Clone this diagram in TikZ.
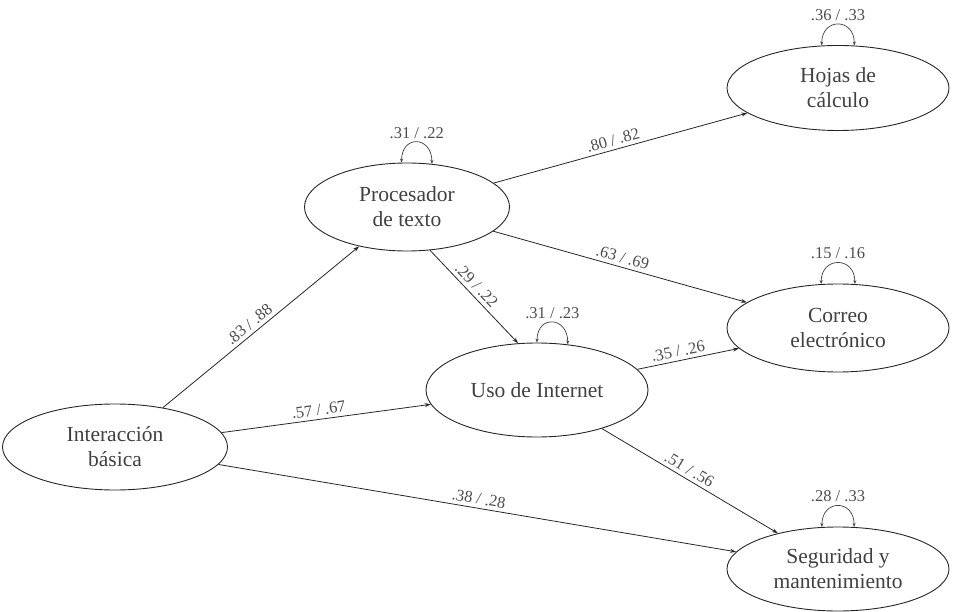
\documentclass[tikz,border=0pt]{standalone}
\usepackage{fontspec}
\setmainfont{Liberation Serif}
\usetikzlibrary{arrows.meta,shapes.geometric}
\begin{document}
\begin{tikzpicture}[x=1pt,y=-1pt,
  var/.style={ellipse,draw=black!85,line width=0.9pt,inner sep=0pt,
    text=black!75,align=center,
    font=\fontsize{21.5}{25}\selectfont},
  path/.style={draw=black!85,line width=0.8pt,-{Stealth[length=6pt,width=4pt]}},
  err/.style={draw=black!75,line width=0.7pt,{Stealth[length=4pt,width=3pt]}-{Stealth[length=4pt,width=3pt]}},
  coef/.style={text=black!70,font=\fontsize{16.5}{18}\selectfont,inner sep=3.5pt},
]
\useasboundingbox (0,0) rectangle (953,612);
\node[var,minimum width=222pt,minimum height=85pt] (H) at (838,88) {Hojas de\\cálculo};
\node[var,minimum width=205pt,minimum height=88pt] (P) at (407,207) {Procesador\\de texto};
\node[var,minimum width=222pt,minimum height=88pt] (C) at (838,328) {Correo\\electrónico};
\node[var,minimum width=222pt,minimum height=94pt] (U) at (537,390) {Uso de Internet};
\node[var,minimum width=225pt,minimum height=86pt] (I) at (115,447) {Interacción\\básica};
\node[var,minimum width=222pt,minimum height=84pt] (S) at (838,569) {Seguridad y\\mantenimiento};

\draw[path] (I) -- node[coef,sloped,above,pos=0.47] {.83 / .88} (P);
\draw[path] (I) -- node[coef,sloped,above,pos=0.47] {.57 / .67} (U);
\draw[path] (I) -- node[coef,sloped,above,pos=0.5] {.38 / .28} (S);
\draw[path] (P) -- node[coef,sloped,above,pos=0.48] {.80 / .82} (H);
\draw[path] (P) -- node[coef,sloped,above,pos=0.5] {.63 / .69} (C);
\draw[path] (P.-62) -- node[coef,sloped,above,pos=0.45] {.29 / .22} (U.112);
\draw[path] (U) -- node[coef,sloped,above,pos=0.42] {.35 / .26} (C);
\draw[path] (U) -- node[coef,sloped,above,pos=0.47] {.51 / .56} (S);

\draw[err] (P.97) .. controls +(0,-28) and +(0,-28) .. (P.60)
  node[coef,pos=0.5,above] {.31 / .22};
\draw[err] (H.111) .. controls +(0,-28) and +(0,-28) .. (H.69)
  node[coef,pos=0.5,above] {.36 / .33};
\draw[err] (C.111) .. controls +(0,-28) and +(0,-28) .. (C.69)
  node[coef,pos=0.5,above] {.15 / .16};
\draw[err] (U.90) .. controls +(0,-28) and +(0,-28) .. (U.56)
  node[coef,pos=0.5,above] {.31 / .23};
\draw[err] (S.111) .. controls +(0,-28) and +(0,-28) .. (S.69)
  node[coef,pos=0.5,above] {.28 / .33};
\end{tikzpicture}
\end{document}
